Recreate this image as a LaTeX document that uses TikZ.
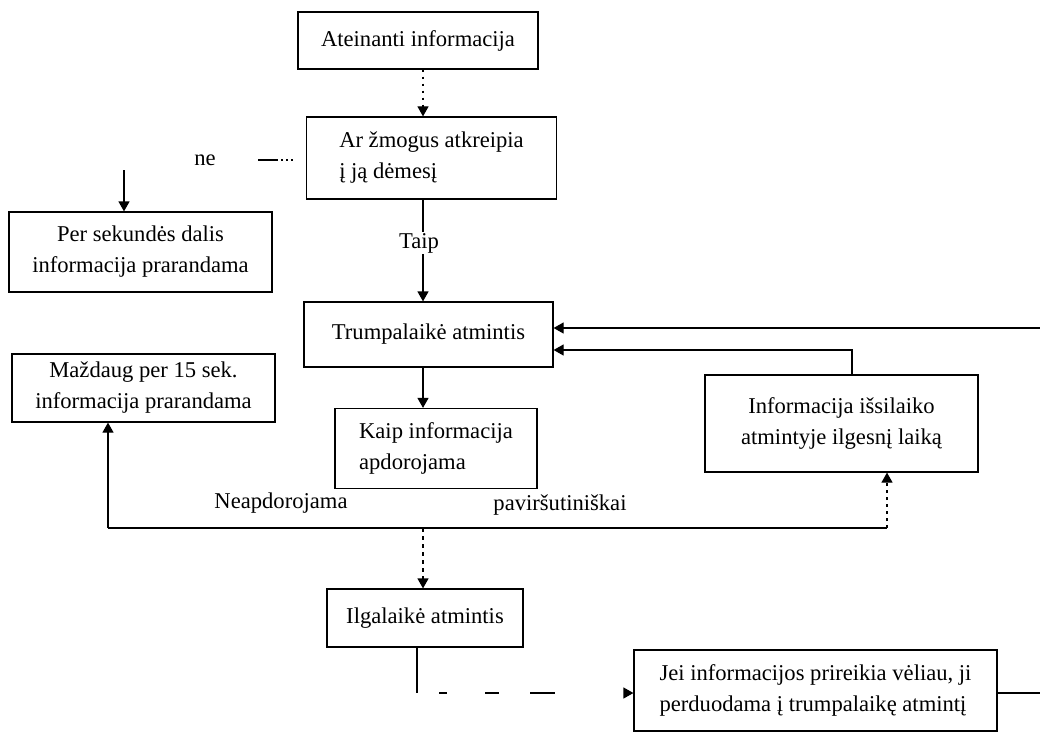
\documentclass[tikz,border=0pt]{standalone}
\usepackage{fontspec}
\setmainfont{Liberation Serif}
\usetikzlibrary{arrows.meta}
\begin{document}
\begin{tikzpicture}[x=1pt,y=-1pt,
  box/.style={draw, line width=1.2pt, inner sep=0pt, font=\fontsize{22.6}{31}\selectfont, align=center},
  lbl/.style={font=\fontsize{22.6}{31}\selectfont, inner sep=1pt},
  conn/.style={line width=1.2pt},
  arr/.style={conn, -{Triangle[length=10pt,width=11pt]}},
  ]
\useasboundingbox (0,0) rectangle (1040,733);
% boxes
\node[box, minimum width=240pt, minimum height=57pt] (b1) at (418,40.5) {Ateinanti informacija};
\node[box, align=left, minimum width=250pt, minimum height=82pt] (b2) at (431.5,158) {Ar žmogus atkreipia\\į ją dėmesį};
\node[box, minimum width=263pt, minimum height=80pt] (b3) at (140.5,252) {Per sekundės dalis\\informacija prarandama};
\node[box, minimum width=249pt, minimum height=65pt] (b4) at (428.5,334.5) {Trumpalaikė atmintis};
\node[box, align=left, minimum width=202pt, minimum height=80pt] (b5) at (436,448.5) {Kaip informacija\\apdorojama};
\node[box, minimum width=263pt, minimum height=68pt] (b6) at (143.5,388) {Maždaug per 15 sek.\\informacija prarandama};
\node[box, minimum width=273pt, minimum height=97pt] (b7) at (841.5,423.5) {Informacija išsilaiko\\atmintyje ilgesnį laiką};
\node[box, minimum width=196pt, minimum height=58pt] (b8) at (425,618) {Ilgalaikė atmintis};
\node[box, align=left, minimum width=363pt, minimum height=81pt] (b9) at (815.5,690.5) {Jei informacijos prireikia vėliau, ji\\perduodama į trumpalaikę atmintį};
% labels
\node[lbl] (ne) at (205,160) {ne};
\node[lbl] (taip) at (419,243) {Taip};
\node[lbl] (neap) at (281,503) {Neapdorojama};
\node[lbl] (pav) at (560,505) {paviršutiniškai};
% coordinates
\coordinate (xa) at (423,0);
\coordinate (neR) at (258,160);
\coordinate (neL) at (124,170);
\coordinate (dl) at (108,528);
\coordinate (dr) at (887,528);
\coordinate (bc) at (417,693);
\coordinate (rr) at (1040,693);
\coordinate (tr) at (1040,328);
\coordinate (lp) at (852,350);
% connectors
\draw[arr, dash pattern=on 2pt off 5pt] (xa |- b1.south) -- (xa |- b2.north);
\draw[conn, dash pattern=on 20pt off 3pt on 2pt off 3pt on 2pt off 3pt on 2pt off 100pt] (neR) -- (b2.west |- neR);
\draw[arr] (neL) -- (neL |- b3.north);
\draw[conn] (xa |- b2.south) -- (xa |- taip.north);
\draw[arr] (xa |- taip.south) -- (xa |- b4.north);
\draw[arr] (xa |- b4.south) -- (xa |- b5.north);
\draw[conn] (dl) -- (dr);
\draw[arr] (dl) -- (dl |- b6.south);
\draw[arr, dash pattern=on 3pt off 4pt] (dr) -- (dr |- b7.south);
\draw[arr, dash pattern=on 4pt off 4pt] (xa |- dl) -- (xa |- b8.north);
\draw[conn] (b8.south -| bc) -- (bc);
\draw[arr, dash pattern=on 0pt off 22pt on 8pt off 38pt on 14pt off 31pt on 25pt off 100pt] (bc) -- (b9.west |- bc);
\draw[conn] (b9.east |- rr) -- (rr);
\draw[arr] (tr) -- (b4.east |- tr);
\draw[arr] (lp |- b7.north) -- (lp) -- (b4.east |- lp);
\end{tikzpicture}
\end{document}
